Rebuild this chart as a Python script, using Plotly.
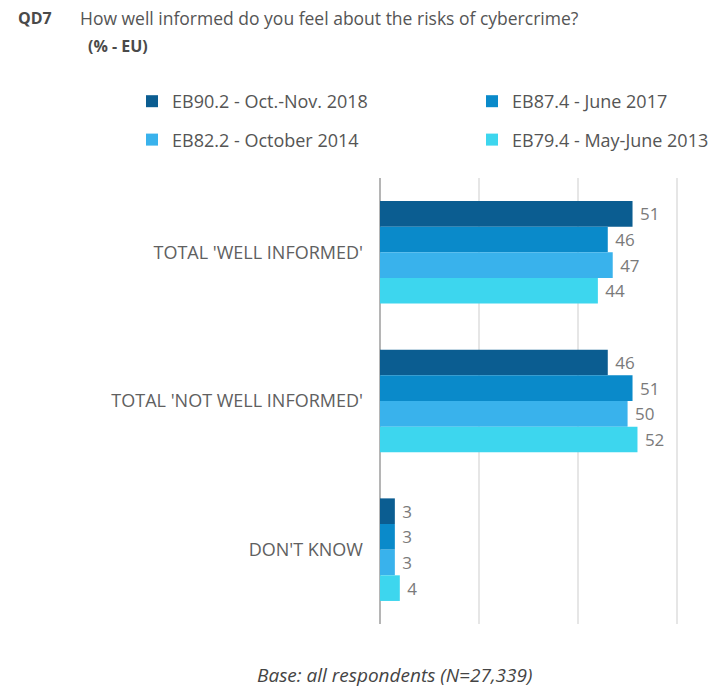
import plotly.graph_objects as go

# Survey answers (% - EU) for each wave
categories = ["TOTAL 'WELL INFORMED'", "TOTAL 'NOT WELL INFORMED'", "DON'T KNOW"]
waves = [
    "EB90.2 - Oct.-Nov. 2018",
    "EB87.4 - June 2017",
    "EB82.2 - October 2014",
    "EB79.4 - May-June 2013",
]
values = [
    [51, 46, 3],
    [46, 51, 3],
    [47, 50, 3],
    [44, 52, 4],
]
colors = ["#0b5d91", "#0a8aca", "#39b2ec", "#3dd6ee"]
# legend layout: 2018 & 2014 in the left column, 2017 & 2013 in the right one
legend_of = ["legend", "legend2", "legend", "legend2"]

W, H = 715, 688
L, R, T, B = 380, 28, 178, 64
FONT = "Open Sans, Segoe UI, sans-serif"


def px_x(px):
    return (px - L) / (W - L - R)


def px_y(py):
    return 1 - (py - T) / (H - T - B)


fig = go.Figure()
for i, (name, vals, col) in enumerate(zip(waves, values, colors)):
    fig.add_trace(go.Bar(
        y=categories, x=vals, name=name, orientation="h",
        marker=dict(color=col, line=dict(width=0)),
        text=[f" {v}" for v in vals], textposition="outside",
        textfont=dict(color="#7a7a7a", size=17, family=FONT),
        cliponaxis=False, legend=legend_of[i], legendgroup=f"g{i}",
    ))

legend_style = dict(
    orientation="v", yanchor="top", xanchor="left",
    xref="container", yref="container",
    font=dict(size=18, color="#555555", family=FONT),
    itemwidth=30, tracegroupgap=12, traceorder="grouped",
    bgcolor="rgba(0,0,0,0)",
)

fig.update_layout(
    width=W, height=H,
    margin=dict(l=L, r=R, t=T, b=B, autoexpand=False),
    paper_bgcolor="white", plot_bgcolor="white",
    barmode="group", bargap=0.31, bargroupgap=0,
    font=dict(family=FONT, color="#595959"),
    showlegend=True,
    legend=dict(x=132 / W, y=1 - 83 / H, **legend_style),
    legend2=dict(x=472 / W, y=1 - 83 / H, **legend_style),
    xaxis=dict(
        range=[0, 62], tickvals=[0, 20, 40, 60], showticklabels=False,
        showgrid=True, gridcolor="#e6e6e6", gridwidth=1.5,
        zeroline=True, zerolinecolor="#b5b5b5", zerolinewidth=2,
        fixedrange=True,
    ),
    yaxis=dict(
        autorange="reversed", showgrid=False, ticks="",
        tickfont=dict(size=18, color="#606060"), ticklabelstandoff=16,
        fixedrange=True,
    ),
)

fig.add_annotation(text="<b>QD7</b>", x=px_x(16), y=px_y(18), xref="paper", yref="paper",
                   xanchor="left", yanchor="middle", showarrow=False,
                   font=dict(size=16, color="#4a4a4a", family=FONT))
fig.add_annotation(text="How well informed do you feel about the risks of cybercrime?",
                   x=px_x(78), y=px_y(18), xref="paper", yref="paper",
                   xanchor="left", yanchor="middle", showarrow=False,
                   font=dict(size=17.5, color="#555555", family=FONT))
fig.add_annotation(text="<b>(% - EU)</b>", x=px_x(86), y=px_y(46), xref="paper", yref="paper",
                   xanchor="left", yanchor="middle", showarrow=False,
                   font=dict(size=16, color="#4a4a4a", family=FONT))
fig.add_annotation(text="<i>Base: all respondents (N=27,339)</i>",
                   x=px_x(394), y=px_y(675), xref="paper", yref="paper",
                   xanchor="center", yanchor="middle", showarrow=False,
                   font=dict(size=19, color="#444444", family=FONT))

fig.write_html("out.html")
